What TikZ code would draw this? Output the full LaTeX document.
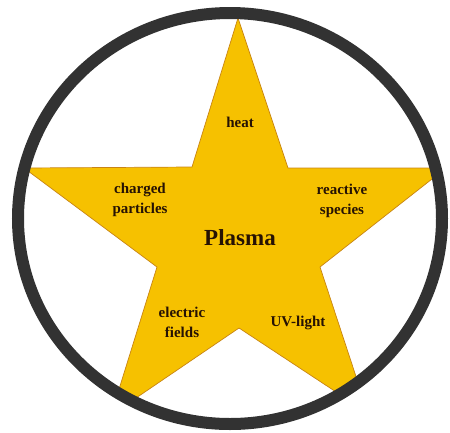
\documentclass[tikz,border=0pt]{standalone}
\usepackage{fontspec}
\setmainfont{Liberation Serif}
\usepackage{xcolor}
\usetikzlibrary{positioning}
\definecolor{stargold}{RGB}{246,193,0}
\definecolor{staredge}{RGB}{200,132,20}
\definecolor{ringgray}{RGB}{50,50,50}
\definecolor{inkbrown}{RGB}{38,18,4}

\begin{document}
\begin{tikzpicture}[x=1pt,y=-1pt,
  lbl/.style={text=inkbrown,align=center,inner sep=0pt,
    font=\fontsize{15}{20}\selectfont\bfseries},
  title/.style={text=inkbrown,inner sep=0pt,font=\fontsize{23}{26}\selectfont\bfseries}]
  \useasboundingbox (0,0) rectangle (450,432);
  % star, cut off by the ring
  \begin{scope}
    \clip (230,218.5) ellipse [x radius=212, y radius=205.5];
    \filldraw[fill=stargold,draw=staredge,line width=0.7pt]
      (238,18) -- (288,168) -- (446,168) -- (320,267) -- (368,413)
      -- (239,328) -- (111,415) -- (157,267) -- (24,168) -- (192,167) -- cycle;
  \end{scope}
  \draw[ringgray,line width=12pt] (230,218.5) ellipse [x radius=212, y radius=205.5];
  \node[title] (plasma) at (240,238) {Plasma};
  \node[lbl] (heat) at (240,122) {heat};
  \node[lbl] (charged) at (140,200) {charged\\particles};
  \node[lbl] (reactive) at (342,201) {reactive\\species};
  \node[lbl] (electric) at (182,322) {electric\\fields};
  \node[lbl] (uv) at (298,323) {UV-light};
\end{tikzpicture}
\end{document}
